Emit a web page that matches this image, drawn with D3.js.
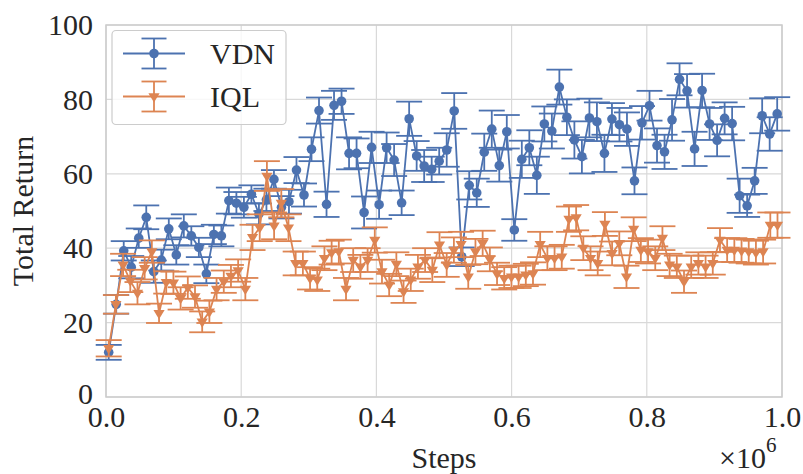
<!DOCTYPE html>
<html>
<head>
<meta charset="utf-8">
<script src="https://cdn.jsdelivr.net/npm/d3@7"></script>
<style>
  html, body { margin: 0; padding: 0; background: #ffffff; }
  svg { display: block; }
  text { font-family: "Liberation Serif", "DejaVu Serif", serif; fill: #262626; }
</style>
</head>
<body>
<svg id="chart" width="803" height="474"></svg>
<script>
// Evaluation returns (mean and spread over runs) logged during training.
const vdnSteps = d3.range(90).map(i => 4000 + i * 11111);
const vdnReturn = [
  12.0, 24.9, 39.3, 34.9, 42.7, 48.3, 33.7, 36.8, 45.2, 38.2,
  46.0, 43.3, 40.2, 33.1, 43.7, 43.3, 52.8, 52.1, 51.0, 54.5,
  49.2, 53.0, 58.5, 51.0, 52.5, 61.0, 54.3, 66.6, 77.0, 51.8,
  78.4, 79.5, 65.5, 65.5, 49.6, 67.1, 51.7, 67.0, 63.7, 52.2,
  74.8, 64.8, 62.1, 61.2, 63.4, 66.4, 76.9, 37.7, 56.9, 54.9,
  65.8, 72.0, 62.2, 71.3, 44.9, 63.9, 67.0, 59.6, 73.4, 71.5,
  83.3, 75.2, 69.1, 64.6, 75.0, 74.0, 65.5, 74.7, 73.2, 72.0,
  58.1, 73.7, 78.3, 67.6, 65.9, 74.5, 85.4, 82.3, 66.7, 82.4,
  73.4, 69.0, 74.9, 73.5, 54.1, 51.4, 58.1, 75.6, 70.7, 76.1
];
const vdnErr = [
  2.0, 2.5, 2.6, 3.0, 2.6, 3.2, 3.0, 2.8, 2.8, 2.6,
  3.1, 2.6, 2.6, 2.5, 2.6, 2.8, 3.5, 3.0, 2.8, 2.4,
  2.8, 3.0, 2.5, 3.0, 3.2, 3.5, 3.1, 3.2, 3.5, 3.4,
  3.9, 3.4, 4.3, 4.0, 4.3, 4.2, 3.8, 4.1, 4.3, 3.3,
  4.6, 4.0, 4.3, 3.4, 3.6, 4.5, 4.8, 2.5, 3.8, 3.8,
  5.0, 5.0, 4.3, 4.5, 2.9, 5.0, 4.7, 5.0, 4.7, 4.7,
  4.7, 4.8, 5.0, 4.5, 5.2, 5.2, 5.0, 4.3, 4.5, 4.5,
  3.6, 4.5, 4.0, 4.6, 4.6, 5.6, 4.3, 4.5, 4.6, 4.5,
  4.3, 4.3, 4.3, 4.5, 4.6, 3.0, 3.5, 4.7, 4.5, 4.5
];

const iqlSteps = d3.range(94).map(i => 4000 + i * 10638);
const iqlReturn = [
  13.1, 24.9, 35.5, 31.2, 27.9, 34.6, 39.1, 22.5, 30.8, 30.7,
  26.5, 29.4, 27.0, 20.2, 22.9, 29.0, 31.0, 32.5, 34.0, 29.0,
  42.9, 45.5, 59.4, 46.0, 52.1, 45.5, 35.9, 35.9, 31.9, 31.5,
  37.3, 38.8, 39.1, 29.0, 36.8, 35.0, 36.8, 42.2, 33.7, 30.1,
  35.7, 28.3, 31.5, 35.0, 36.8, 34.1, 40.9, 35.5, 39.5, 41.0,
  32.3, 39.1, 41.3, 37.0, 33.1, 31.9, 32.3, 32.3, 32.8, 33.2,
  41.0, 37.3, 37.3, 37.7, 47.8, 48.2, 40.0, 37.3, 35.9, 46.5,
  38.6, 41.3, 32.3, 45.1, 39.5, 39.1, 37.3, 42.7, 35.5, 35.0,
  31.0, 35.0, 35.9, 35.0, 35.9, 42.2, 39.5, 39.5, 39.3, 39.1,
  38.8, 39.1, 46.2, 46.2
];
const iqlErr = [
  2.2, 2.5, 3.0, 3.0, 3.0, 3.0, 3.0, 2.6, 3.0, 3.0,
  3.0, 3.0, 3.0, 2.8, 3.0, 3.0, 3.0, 3.0, 3.0, 3.0,
  3.4, 3.6, 4.0, 3.6, 3.8, 3.6, 3.2, 3.2, 3.0, 3.0,
  3.2, 3.2, 3.2, 3.0, 3.2, 3.2, 3.2, 3.4, 3.2, 3.0,
  3.2, 3.0, 3.0, 3.2, 3.2, 3.2, 3.4, 3.2, 3.4, 3.4,
  3.2, 3.4, 3.4, 3.2, 3.0, 3.0, 3.0, 3.0, 3.0, 3.0,
  3.4, 3.2, 3.2, 3.2, 3.4, 3.4, 3.2, 3.2, 3.2, 3.2,
  3.2, 3.2, 3.0, 3.2, 3.2, 3.2, 3.2, 3.2, 3.0, 3.0,
  3.0, 3.0, 3.0, 3.0, 3.0, 3.2, 3.2, 3.2, 3.2, 3.2,
  3.2, 3.2, 3.4, 3.4
];

const xTicks = [0, 0.2e6, 0.4e6, 0.6e6, 0.8e6, 1.0e6];
const xTickLabels = ["0.0", "0.2", "0.4", "0.6", "0.8", "1.0"];
const yTicks = [0, 20, 40, 60, 80, 100];

const seriesNames = ["VDN", "IQL"];
const seriesColors = ["#4c72b0", "#dd8452"];

const series = [
  { name: seriesNames[0], color: seriesColors[0], marker: "circle",
    points: vdnSteps.map((s, i) => ({ x: s, y: vdnReturn[i], e: vdnErr[i] })) },
  { name: seriesNames[1], color: seriesColors[1], marker: "triangle",
    points: iqlSteps.map((s, i) => ({ x: s, y: iqlReturn[i], e: iqlErr[i] })) }
];

const svg = d3.select("#chart");
const plot = { left: 106, right: 782, top: 25, bottom: 397 };

const x = d3.scaleLinear().domain([0, 1e6]).range([plot.left, plot.right]);
const y = d3.scaleLinear().domain([0, 100]).range([plot.bottom, plot.top]);

const gridColor = "#d9d9d9";

// grid lines
svg.append("g").selectAll("line").data(xTicks).join("line")
  .attr("x1", d => x(d)).attr("x2", d => x(d))
  .attr("y1", plot.top).attr("y2", plot.bottom)
  .attr("stroke", gridColor).attr("stroke-width", 1.2);
svg.append("g").selectAll("line").data(yTicks).join("line")
  .attr("x1", plot.left).attr("x2", plot.right)
  .attr("y1", d => y(d)).attr("y2", d => y(d))
  .attr("stroke", gridColor).attr("stroke-width", 1.2);

// frame
svg.append("rect")
  .attr("x", plot.left).attr("y", plot.top)
  .attr("width", plot.right - plot.left).attr("height", plot.bottom - plot.top)
  .attr("fill", "none").attr("stroke", "#cccccc").attr("stroke-width", 1.5);

// axes (labels only, no tick marks)
const xAxis = d3.axisBottom(x).tickValues(xTicks)
  .tickFormat((d, i) => xTickLabels[i]).tickSize(0).tickPadding(9);
const gx = svg.append("g").attr("transform", `translate(0,${plot.bottom})`).call(xAxis);
gx.select(".domain").remove();
gx.selectAll("text").attr("font-size", 30).attr("font-family", "Liberation Serif").attr("fill", "#262626");

const yAxis = d3.axisLeft(y).tickValues(yTicks).tickSize(0).tickPadding(13);
const gy = svg.append("g").attr("transform", `translate(${plot.left},0)`).call(yAxis);
gy.select(".domain").remove();
gy.selectAll("text").attr("font-size", 30).attr("font-family", "Liberation Serif").attr("fill", "#262626");
// lift the lowest y label a touch so it clears the first x label
gy.selectAll(".tick").filter(d => d === 0).select("text").attr("dy", "0.2em");

// axis titles
svg.append("text").attr("x", (plot.left + plot.right) / 2).attr("y", 468)
  .attr("text-anchor", "middle").attr("font-size", 30).text("Steps");
svg.append("text").attr("transform", `translate(33,${(plot.top + plot.bottom) / 2}) rotate(-90)`)
  .attr("text-anchor", "middle").attr("font-size", 30).text("Total Return");

// offset text
svg.append("text").attr("x", 766).attr("y", 468).attr("text-anchor", "end").attr("font-size", 30).text("×10");
svg.append("text").attr("x", 766).attr("y", 452).attr("font-size", 21).text("6");

const capHalf = 13;
const triPath = r => `M${-r},${-r * 0.6}L${r},${-r * 0.6}L0,${r * 1.05}Z`;

function drawSeries(s) {
  const g = svg.append("g");
  const pts = s.points;
  // error bars
  g.selectAll(".bar").data(pts).join("line")
    .attr("x1", d => x(d.x)).attr("x2", d => x(d.x))
    .attr("y1", d => y(d.y - d.e)).attr("y2", d => y(d.y + d.e))
    .attr("stroke", s.color).attr("stroke-width", 1.8);
  g.selectAll(".capTop").data(pts).join("line")
    .attr("x1", d => x(d.x) - capHalf).attr("x2", d => x(d.x) + capHalf)
    .attr("y1", d => y(d.y + d.e)).attr("y2", d => y(d.y + d.e))
    .attr("stroke", s.color).attr("stroke-width", 1.8);
  g.selectAll(".capBot").data(pts).join("line")
    .attr("x1", d => x(d.x) - capHalf).attr("x2", d => x(d.x) + capHalf)
    .attr("y1", d => y(d.y - d.e)).attr("y2", d => y(d.y - d.e))
    .attr("stroke", s.color).attr("stroke-width", 1.8);
  // mean line
  const line = d3.line().x(d => x(d.x)).y(d => y(d.y));
  g.append("path").datum(pts).attr("d", line)
    .attr("fill", "none").attr("stroke", s.color).attr("stroke-width", 1.8);
  // markers
  if (s.marker === "circle") {
    g.selectAll(".mk").data(pts).join("circle")
      .attr("cx", d => x(d.x)).attr("cy", d => y(d.y)).attr("r", 4.8)
      .attr("fill", s.color);
  } else {
    g.selectAll(".mk").data(pts).join("path")
      .attr("transform", d => `translate(${x(d.x)},${y(d.y)})`)
      .attr("d", triPath(5.6)).attr("fill", s.color);
  }
}
series.forEach(drawSeries);

// legend
const lg = svg.append("g");
lg.append("rect").attr("x", 112).attr("y", 30.5).attr("width", 174).attr("height", 94)
  .attr("rx", 4).attr("fill", "#ffffff").attr("fill-opacity", 0.8)
  .attr("stroke", "#cccccc").attr("stroke-width", 1.2);
series.forEach((s, i) => {
  const cy = 53.5 + i * 43;
  const cx = 154;
  lg.append("line").attr("x1", 123).attr("x2", 185).attr("y1", cy).attr("y2", cy)
    .attr("stroke", s.color).attr("stroke-width", 1.8);
  lg.append("line").attr("x1", cx).attr("x2", cx).attr("y1", cy - 15).attr("y2", cy + 15)
    .attr("stroke", s.color).attr("stroke-width", 1.8);
  [cy - 15, cy + 15].forEach(yy => lg.append("line")
    .attr("x1", cx - 12.5).attr("x2", cx + 12.5).attr("y1", yy).attr("y2", yy)
    .attr("stroke", s.color).attr("stroke-width", 1.8));
  if (s.marker === "circle") {
    lg.append("circle").attr("cx", cx).attr("cy", cy).attr("r", 4.8).attr("fill", s.color);
  } else {
    lg.append("path").attr("transform", `translate(${cx},${cy})`).attr("d", triPath(5.6)).attr("fill", s.color);
  }
  lg.append("text").attr("x", 210).attr("y", cy + 10.5).attr("font-size", 30).text(s.name);
});
</script>
</body>
</html>
